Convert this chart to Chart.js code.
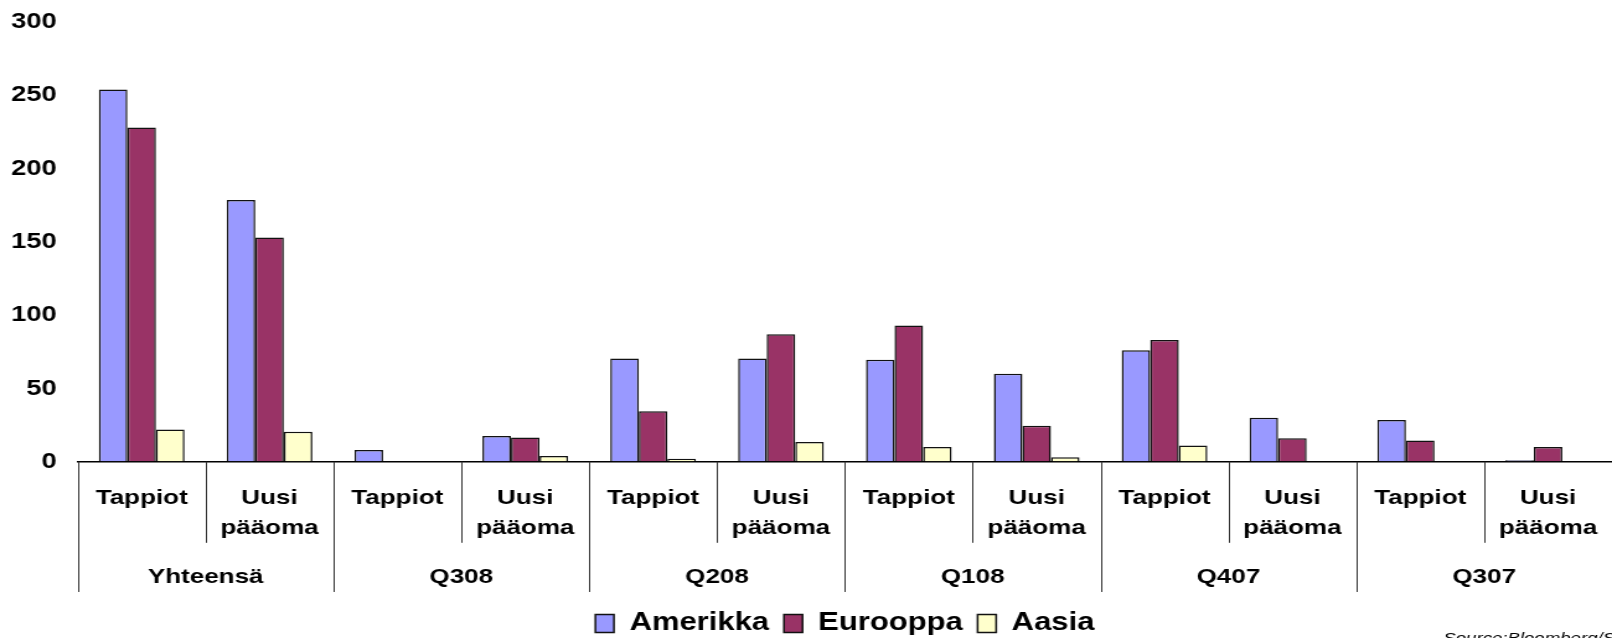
<!DOCTYPE html>
<html lang="fi">

<head>
	<meta charset="UTF-8">
	<meta name="viewport" content="width=device-width, initial-scale=1.0">
	<title>Tappiot ja uusi pääoma</title>
	<script src="https://cdn.jsdelivr.net/npm/chart.js"></script>
	<style>
		html, body { margin: 0; padding: 0; background: #fff; overflow: hidden; }
		/* the original picture is stretched sideways, so the chart is too;
		   it is also a bit taller than the window (bottom is cut off) */
		#wrap { width: 1300px; height: 646px; transform: scaleX(1.24); transform-origin: 0 0; }
	</style>
</head>

<body>
	<div id="wrap"><canvas id="barChart"></canvas></div>

	<script>
		var categories = [
			["Tappiot"], ["Uusi", "pääoma"],
			["Tappiot"], ["Uusi", "pääoma"],
			["Tappiot"], ["Uusi", "pääoma"],
			["Tappiot"], ["Uusi", "pääoma"],
			["Tappiot"], ["Uusi", "pääoma"],
			["Tappiot"], ["Uusi", "pääoma"]
		];
		var groups = ["Yhteensä", "Q308", "Q208", "Q108", "Q407", "Q307"];

		var amerikka = [254, 178.5, 8, 17.5, 70.5, 70.5, 69.5, 60, 76, 30, 28.5, 1];
		var eurooppa = [228, 153, null, 16.5, 34.5, 87, 93, 24.5, 83, 16, 14.5, 10];
		var aasia = [22, 20.5, null, 4, 2, 13.5, 10, 3, 11, null, null, null];

		var yMin = 0, yMax = 300, yStep = 50;
		var source = "Source:Bloomberg/SIFMA";

		var font = "'Liberation Sans', Arial, sans-serif";
		var noGrid = { color: "transparent", drawOnChartArea: false, drawTicks: true };

		// vertical separators under the axis + source note
		var dividers = {
			id: "dividers",
			afterDraw: function (chart) {
				var ctx = chart.ctx;
				var x = chart.scales.x, x2 = chart.scales.x2;
				var n = categories.length;
				var step = (x.right - x.left) / n;
				var groupEnd = x2.top + (x2.bottom - x2.top) * 0.875;
				ctx.save();
				ctx.strokeStyle = "#333";
				ctx.lineWidth = 1;
				for (var i = 0; i < n; i++) {
					var px = Math.round(x.left + i * step) + 0.5;
					var bottom = (i % 2 === 0) ? groupEnd : x.bottom;
					ctx.beginPath();
					ctx.moveTo(px, x.top);
					ctx.lineTo(px, bottom);
					ctx.stroke();
				}
				ctx.font = "italic 15px " + font;
				ctx.fillStyle = "#000";
				ctx.fillText(source, chart.width - 136, chart.height - 7);
				ctx.restore();
			}
		};

		new Chart(document.getElementById("barChart"), {
			type: "bar",
			data: {
				labels: categories,
				datasets: [
					{ label: "Amerikka", data: amerikka, backgroundColor: "#9999FF", borderColor: "#111", borderWidth: 1.5 },
					{ label: "Eurooppa", data: eurooppa, backgroundColor: "#993366", borderColor: "#111", borderWidth: 1.5 },
					{ label: "Aasia", data: aasia, backgroundColor: "#FFFFCC", borderColor: "#111", borderWidth: 1.5 }
				]
			},
			options: {
				responsive: true,
				maintainAspectRatio: false,
				animation: false,
				categoryPercentage: 0.67,
				barPercentage: 1.0,
				layout: { padding: { top: 22, left: 9, right: 0, bottom: 0 } },
				plugins: {
					tooltip: { enabled: false },
					legend: {
						position: "bottom",
						fullSize: false,
						labels: {
							color: "#000",
							font: { family: font, size: 25, weight: "bold" },
							boxWidth: 15,
							boxHeight: 18,
							padding: 12
						}
					}
				},
				scales: {
					x: {
						weight: 0,
						grid: Object.assign({ tickLength: 21 }, noGrid),
						border: { display: true, color: "#000", width: 1.5 },
						ticks: {
							color: "#000",
							autoSkip: false,
							maxRotation: 0,
							padding: 0,
							font: { family: font, size: 21, weight: "bold", lineHeight: 1.43 }
						}
					},
					x2: {
						type: "category",
						position: "bottom",
						weight: 1,
						labels: groups,
						offset: true,
						grid: Object.assign({ tickLength: 12 }, noGrid),
						border: { display: false },
						ticks: {
							color: "#000",
							autoSkip: false,
							maxRotation: 0,
							padding: 9.5,
							font: { family: font, size: 21, weight: "bold", lineHeight: 1.2 }
						}
					},
					y: {
						min: yMin,
						max: yMax,
						grid: Object.assign({ tickLength: 17 }, noGrid),
						border: { display: false },
						ticks: {
							stepSize: yStep,
							color: "#000",
							padding: 0,
							font: { family: font, size: 22, weight: "bold" }
						}
					}
				}
			},
			plugins: [dividers]
		});
	</script>
</body>

</html>
